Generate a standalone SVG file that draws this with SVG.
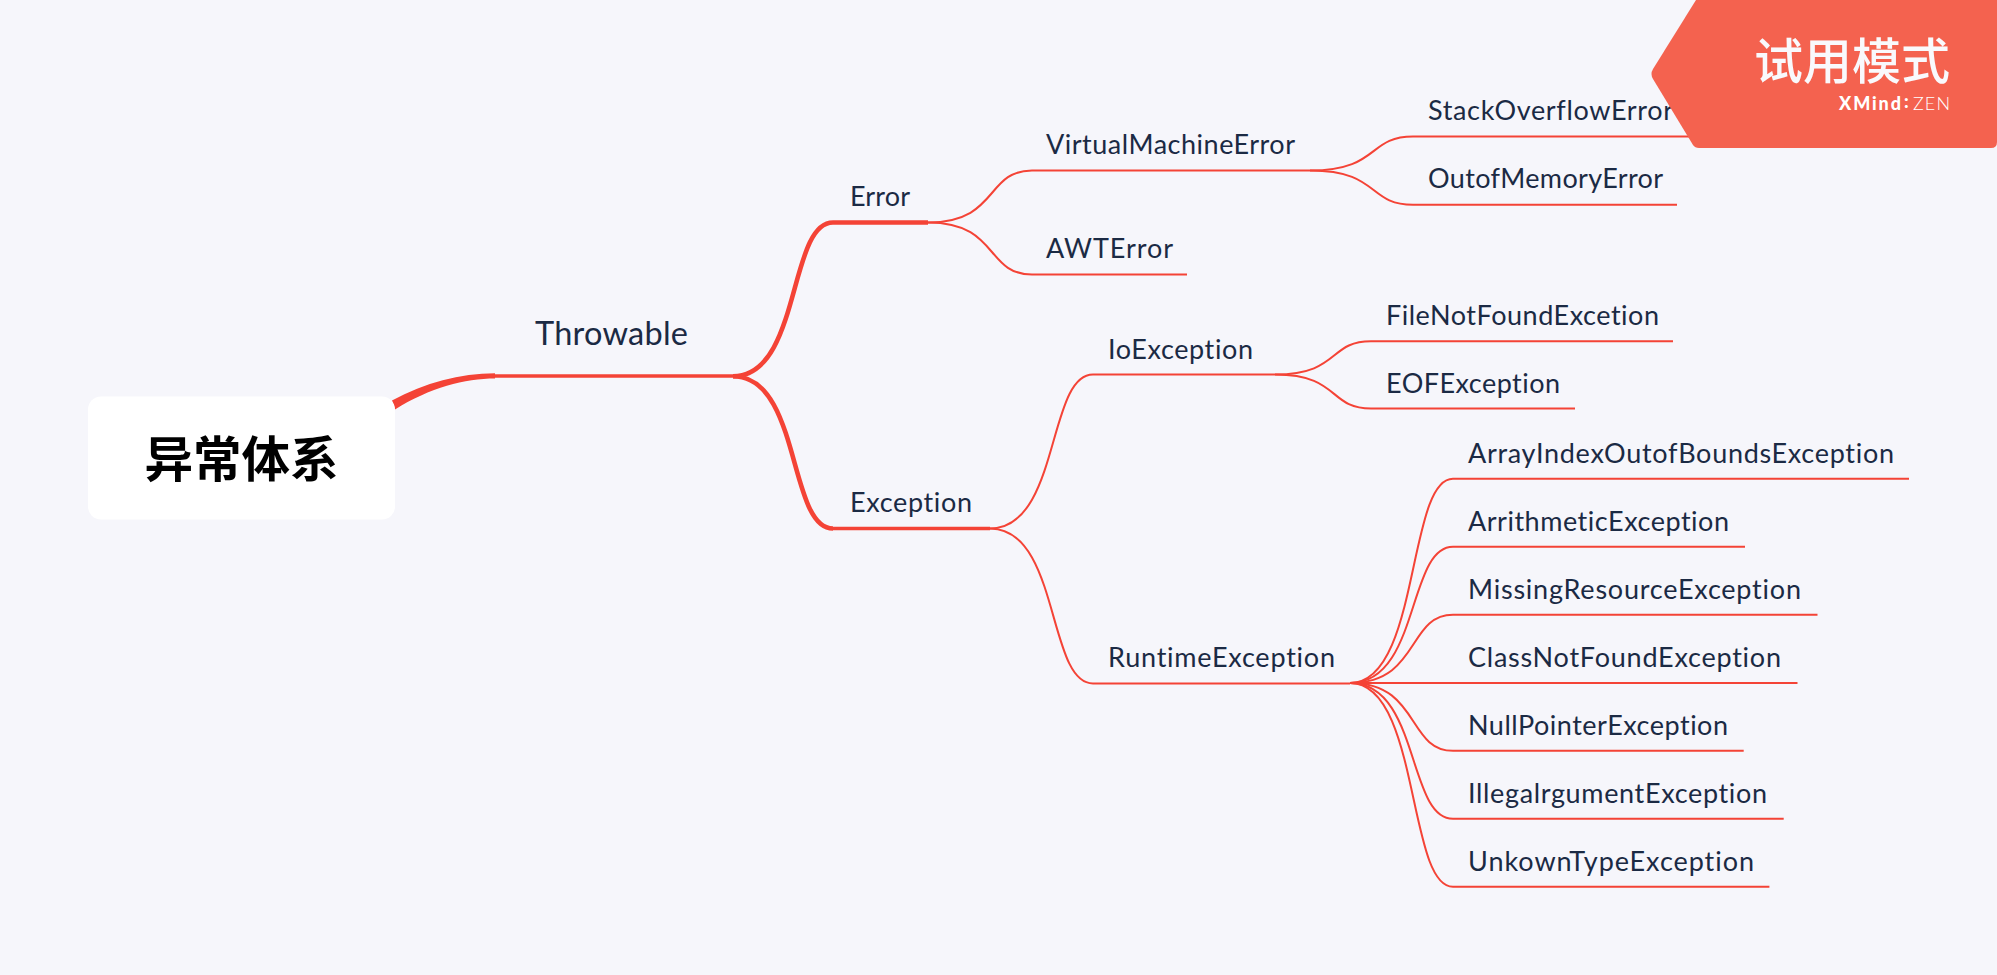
<svg xmlns="http://www.w3.org/2000/svg" width="1997" height="975" viewBox="0 0 1997 975">
<style>
.bg{fill:#f6f6fb}
.l{fill:none;stroke:#f44336;stroke-width:2;stroke-linecap:butt}
.m{fill:none;stroke:#f44336;stroke-width:3.6}
.h{fill:none;stroke:#f44336;stroke-width:4.6}
.t{font-family:"Lato","Noto Sans",sans-serif;font-size:27px;fill:#1b2a44;font-variant-ligatures:none}
.big{font-size:32.5px}
.root{font-family:"Noto Sans CJK SC",sans-serif;font-size:48.5px;font-weight:700;fill:#000;text-anchor:middle}
.wm{font-family:"Noto Sans CJK SC",sans-serif;font-size:49px;font-weight:500;fill:#f9f9fc;text-anchor:end}
.brand{font-family:"Lato","Noto Sans",sans-serif;font-size:18px;fill:#fff}
</style>
<rect class="bg" width="1997" height="975"/>
<g transform="translate(0,0.5)">
<g id="connectors">
<path d="M392,400C425,382 460,373 495,372.7L495,378C465,378 430,387 395,409Z" fill="#f44336"/>
<path class="m" d="M495,375.5H733"/>
<path class="h" d="M733,375.7C801,375.7 788,222 833,222H928"/>
<path class="h" d="M733,375.7C801,375.7 788,528 833,528"/>
<path class="m" d="M833,528H990"/>
<path class="l" d="M928,222C999,222 985,170 1032,170H1310"/>
<path class="l" d="M928,222C999,222 985,274 1032,274H1187"/>
<path class="l" d="M1310,170C1380,170 1367,136 1413,136H1690"/>
<path class="l" d="M1310,170C1380,170 1367,204.3 1413,204.3H1677"/>
<path class="l" d="M990,528C1060,528 1047,374 1093,374H1275"/>
<path class="l" d="M990,528C1060,528 1047,683 1093,683H1350"/>
<path class="l" d="M1275,374C1340,374 1328,340.7 1371,340.7H1673"/>
<path class="l" d="M1275,374C1340,374 1328,408 1371,408H1575"/>
<path class="l" d="M1350,682.5C1420,682.5 1407,478.3 1453,478.3H1909"/>
<path class="l" d="M1350,682.5C1420,682.5 1407,546.3 1453,546.3H1745"/>
<path class="l" d="M1350,682.5C1420,682.5 1407,614.3 1453,614.3H1817.5"/>
<path class="l" d="M1350,682.5H1797.5"/>
<path class="l" d="M1350,682.5C1420,682.5 1407,750.3 1453,750.3H1743.7"/>
<path class="l" d="M1350,682.5C1420,682.5 1407,818.3 1453,818.3H1783.7"/>
<path class="l" d="M1350,682.5C1420,682.5 1407,886.3 1453,886.3H1769.4"/>
</g>
<g id="root"><rect x="88" y="396" width="307" height="123" rx="13" fill="#fff"/><text class="root" x="241.5" y="476">异常体系</text></g>
<g id="throwable"><text class="t big" x="535" y="344" textLength="153">Throwable</text></g>
<g id="error"><text class="t" x="850" y="205" textLength="60">Error</text></g>
<g id="exception"><text class="t" x="850" y="511" textLength="122">Exception</text></g>
<g id="vme"><text class="t" x="1046" y="153.5" textLength="249">VirtualMachineError</text></g>
<g id="awt"><text class="t" x="1046" y="257.5" textLength="127">AWTError</text></g>
<g id="so"><text class="t" x="1428" y="119.5" textLength="245">StackOverflowError</text></g>
<g id="oom"><text class="t" x="1428" y="187.5" textLength="235">OutofMemoryError</text></g>
<g id="io"><text class="t" x="1108" y="358.2" textLength="145">IoException</text></g>
<g id="rt"><text class="t" x="1108" y="666" textLength="227">RuntimeException</text></g>
<g id="fnf"><text class="t" x="1386" y="324" textLength="273">FileNotFoundExcetion</text></g>
<g id="eof"><text class="t" x="1386" y="392.2" textLength="174">EOFException</text></g>
<g id="aioobe"><text class="t" x="1468" y="462.4" textLength="426">ArrayIndexOutofBoundsException</text></g>
<g id="arith"><text class="t" x="1468" y="530.4" textLength="261">ArrithmeticException</text></g>
<g id="missing"><text class="t" x="1468" y="598.4" textLength="333">MissingResourceException</text></g>
<g id="cnf"><text class="t" x="1468" y="666.4" textLength="313">ClassNotFoundException</text></g>
<g id="npe"><text class="t" x="1468" y="734.4" textLength="260">NullPointerException</text></g>
<g id="iae"><text class="t" x="1468" y="802.4" textLength="299">IllegalrgumentException</text></g>
<g id="ute"><text class="t" x="1468" y="870.4" textLength="286">UnkownTypeException</text></g>
</g>
<g id="badge">
<path d="M1696,0H1997V142Q1997,148 1991,148H1699Q1695,148 1693,145L1653,79Q1650,74 1653,69Z" fill="#f4624f"/>
<text class="wm" x="1950" y="79">试用模式</text>
<text class="brand" x="1839" y="109.5" font-weight="900" textLength="62">XMind</text>
<text class="brand" x="1904" y="108" font-weight="900">:</text>
<text class="brand" x="1913" y="109.5" font-weight="300" textLength="37">ZEN</text>
</g>
</svg>
